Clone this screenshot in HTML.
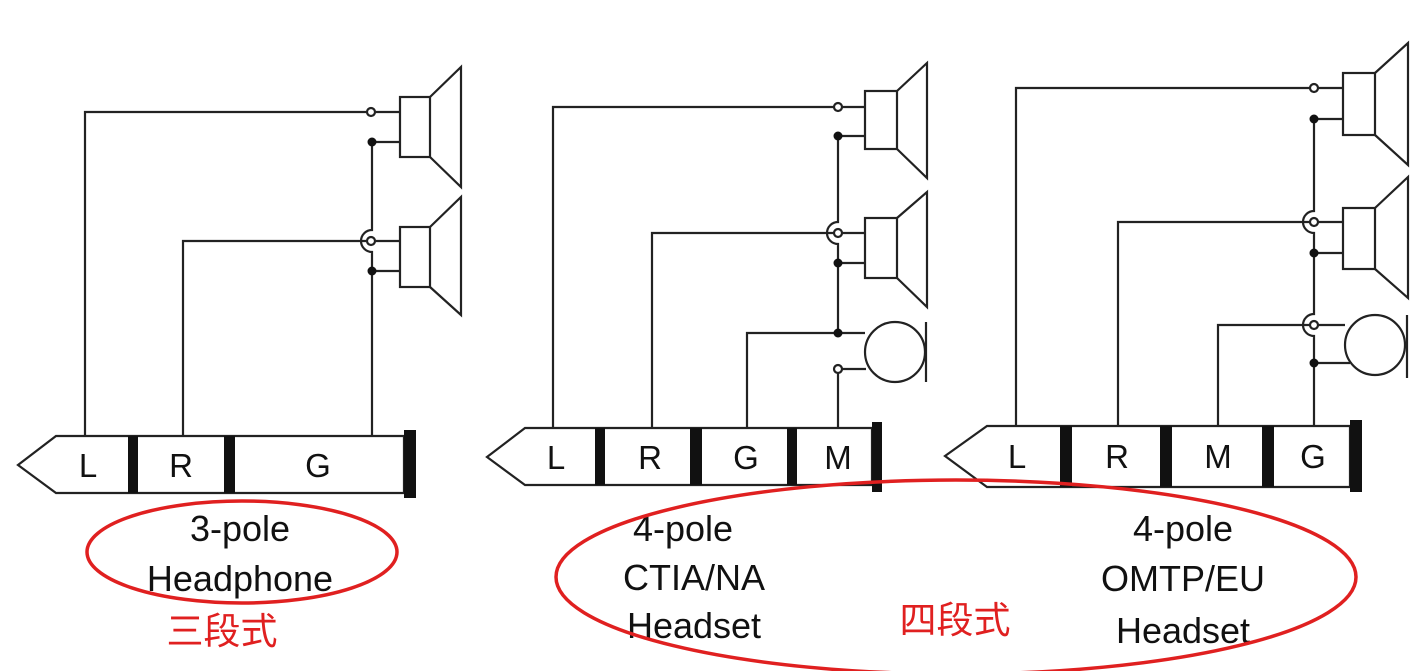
<!DOCTYPE html>
<html><head><meta charset="utf-8"><style>
html,body{margin:0;padding:0;background:#fff;}
svg{display:block}
text{font-family:"Liberation Sans","Noto Sans CJK SC",sans-serif;}
</style></head><body>
<svg width="1416" height="671" viewBox="0 0 1416 671" xmlns="http://www.w3.org/2000/svg">
<g fill="none" stroke="#222" stroke-width="2.2">
<!-- Diagram 1 -->
<path d="M56,436 L404,436 L404,493 L56,493 L18,465 Z" fill="#fff"/>
<path d="M85,436 V112 H366 M376,112 H400"/>
<path d="M183,436 V241 H366 M376,241 H400"/>
<path d="M372,436 V252 A11,11 0 0 1 372,230 V142 H400 M372,271 H400"/>
<rect x="400" y="97" width="30" height="60"/><path d="M430,97 L461,67 V187 L430,157"/>
<rect x="400" y="227" width="30" height="60"/><path d="M430,227 L461,197 V315 L430,287"/>
<circle cx="371" cy="112" r="4" fill="#fff"/>
<circle cx="371" cy="241" r="4" fill="#fff"/>
<!-- Diagram 2 -->
<path d="M525,428 L872,428 L872,485 L525,485 L487,457 Z" fill="#fff"/>
<path d="M553,428 V107 H834 M842,107 H865"/>
<path d="M652,428 V233 H834 M842,233 H865"/>
<path d="M747,428 V333 H865"/>
<path d="M838,333 V244 A11,11 0 0 1 838,222 V136 H865 M838,263 H865"/>
<path d="M838,428 V373 M842,369 H866"/>
<rect x="865" y="91" width="32" height="58"/><path d="M897,91 L927,63 V178 L897,149"/>
<rect x="865" y="218" width="32" height="60"/><path d="M897,218 L927,192 V307 L897,278"/>
<circle cx="895" cy="352" r="30"/><path d="M926,322 V382"/>
<circle cx="838" cy="107" r="4" fill="#fff"/>
<circle cx="838" cy="233" r="4" fill="#fff"/>
<circle cx="838" cy="369" r="4" fill="#fff"/>
<!-- Diagram 3 -->
<path d="M987,426 L1350,426 L1350,487 L987,487 L945,456 Z" fill="#fff"/>
<path d="M1016,426 V88 H1310 M1318,88 H1343"/>
<path d="M1118,426 V222 H1310 M1318,222 H1343"/>
<path d="M1218,426 V325 H1310 M1318,325 H1345"/>
<path d="M1314,426 V336 A11,11 0 0 1 1314,314 V233 A11,11 0 0 1 1314,211 V119 H1343 M1314,253 H1343 M1314,363 H1350"/>
<rect x="1343" y="73" width="32" height="62"/><path d="M1375,73 L1408,43 V165 L1375,135"/>
<rect x="1343" y="208" width="32" height="61"/><path d="M1375,208 L1408,177 V298 L1375,269"/>
<circle cx="1375" cy="345" r="30"/><path d="M1407,315 V378"/>
<circle cx="1314" cy="88" r="4" fill="#fff"/>
<circle cx="1314" cy="222" r="4" fill="#fff"/>
<circle cx="1314" cy="325" r="4" fill="#fff"/>
</g>
<g fill="#111">
<rect x="128" y="436" width="10" height="57"/><rect x="224" y="436" width="11" height="57"/><rect x="404" y="430" width="12" height="68"/>
<circle cx="372" cy="142" r="4.5"/><circle cx="372" cy="271" r="4.5"/>
<rect x="595" y="428" width="10" height="57"/><rect x="690" y="428" width="12" height="57"/><rect x="787" y="428" width="10" height="57"/><rect x="872" y="422" width="10" height="70"/>
<circle cx="838" cy="136" r="4.5"/><circle cx="838" cy="263" r="4.5"/><circle cx="838" cy="333" r="4.5"/>
<rect x="1060" y="426" width="12" height="61"/><rect x="1160" y="426" width="12" height="61"/><rect x="1262" y="426" width="12" height="61"/><rect x="1350" y="420" width="12" height="72"/>
<circle cx="1314" cy="119" r="4.5"/><circle cx="1314" cy="253" r="4.5"/><circle cx="1314" cy="363" r="4.5"/>
</g>
<g font-size="33" text-anchor="middle" fill="#111">
<text x="88" y="477">L</text><text x="181" y="477">R</text><text x="318" y="477">G</text>
<text x="556" y="469">L</text><text x="650" y="469">R</text><text x="746" y="469">G</text><text x="838" y="469">M</text>
<text x="1017" y="468">L</text><text x="1117" y="468">R</text><text x="1218" y="468">M</text><text x="1313" y="468">G</text>
</g>
<g font-size="36" text-anchor="middle" fill="#111">
<text x="240" y="541">3-pole</text><text x="240" y="591">Headphone</text>
<text x="683" y="541">4-pole</text><text x="694" y="590">CTIA/NA</text><text x="694" y="638">Headset</text>
<text x="1183" y="541">4-pole</text><text x="1183" y="591">OMTP/EU</text><text x="1183" y="643">Headset</text>
</g>
<g fill="#e02020" font-size="37" text-anchor="middle">
<text x="222" y="644">三段式</text>
<text x="955" y="633">四段式</text>
</g>
<g fill="none" stroke="#e02020" stroke-width="3.5">
<ellipse cx="242" cy="552" rx="155" ry="51"/>
<ellipse cx="956" cy="577" rx="400" ry="97"/>
</g>
</svg>
</body></html>
